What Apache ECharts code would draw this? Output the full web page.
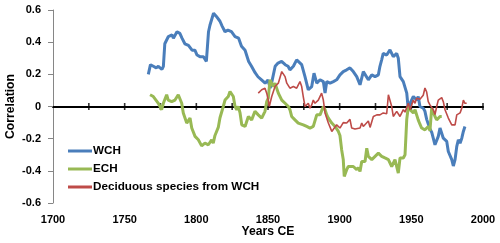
<!DOCTYPE html>
<html><head><meta charset="utf-8">
<script src="https://cdn.jsdelivr.net/npm/echarts@6/dist/echarts.min.js"></script>
<style>html,body{margin:0;padding:0;background:#fff}#c{width:500px;height:243px}</style>
</head><body><div id="c"></div>
<script>
// ---- data ----
const seriesNames = ['WCH', 'ECH', 'Deciduous species from WCH'];

const wchYears = [1766.5,1768,1770,1772,1773.5,1776,1777,1778,1780.5,1783,1784,1786.5,1788.5,1790,1792,1794.5,1797,1799,1800.5,1802.5,1805,1807,1808.5,1809.5,1812,1814,1816.5,1818,1820,1822,1824.5,1827,1829.5,1831.5,1834,1836.5,1838.5,1841,1843,1845.5,1848,1850,1851.5,1852.5,1855,1857,1859.5,1862,1864,1865.3,1867.7,1870,1871.1,1873.5,1875.8,1878.1,1880.5,1882.1,1884,1886.3,1888.6,1889.8,1891,1893.3,1895.6,1897.9,1900.2,1902.5,1904.9,1907.2,1909.5,1911.9,1914.2,1916.5,1917.7,1920,1922.4,1924.7,1927,1928.1,1929.3,1930.4,1932.8,1935.1,1937.4,1939.8,1940.9,1942.1,1944.4,1945.6,1946.8,1947.9,1949.1,1951.4,1953.7,1954.8,1956,1958.3,1959.5,1960.7,1963,1964.2,1966.5,1967.7,1968.8,1970,1971.2,1972.3,1974.7,1975.8,1978.2,1979.3,1980.5,1981.7,1982.8,1984,1985.2,1986.3,1987.4];
const wchValues = [0.20,0.26,0.25,0.24,0.25,0.23,0.25,0.39,0.435,0.445,0.425,0.465,0.455,0.425,0.39,0.38,0.35,0.35,0.32,0.31,0.31,0.28,0.465,0.505,0.58,0.56,0.53,0.50,0.465,0.475,0.465,0.435,0.425,0.375,0.35,0.28,0.25,0.21,0.185,0.165,0.145,0.165,0.115,0.145,0.25,0.27,0.28,0.26,0.25,0.228,0.25,0.29,0.30,0.26,0.186,0.104,0.124,0.207,0.145,0.166,0.155,0.083,0.155,0.145,0.155,0.166,0.197,0.217,0.228,0.24,0.217,0.186,0.135,0.217,0.217,0.166,0.197,0.186,0.197,0.25,0.29,0.33,0.32,0.352,0.31,0.33,0.30,0.186,0.155,0.166,0.083,-0.02,0.02,0.062,0.04,0.062,0.0,-0.01,-0.03,-0.08,-0.14,-0.16,-0.238,-0.238,-0.186,-0.134,-0.134,-0.197,-0.217,-0.28,-0.33,-0.37,-0.33,-0.248,-0.207,-0.228,-0.197,-0.155,-0.124];

const echYears = [1767.7,1770,1773.5,1775.8,1777,1779.3,1780.4,1782.8,1785.1,1787.4,1788.6,1789.8,1790.9,1793.3,1795.6,1796.8,1799.1,1801.4,1803.7,1806,1808.4,1810.7,1811.8,1813,1815.3,1816.5,1818.8,1820,1822.3,1823.5,1824.7,1825.8,1827,1828.2,1829.3,1830.5,1831.7,1834,1836.3,1838.6,1840.9,1843.2,1845.6,1847.9,1849.1,1850.2,1851.4,1852.6,1853.7,1854.9,1857.2,1859.6,1861.9,1864.2,1865.3,1866.5,1868.8,1871.1,1874.6,1877,1879.3,1881.6,1884,1886.3,1888.6,1889.8,1891,1892.1,1894.5,1896.8,1899.1,1900.2,1901.4,1902.5,1903.2,1904.9,1906,1907.2,1909.5,1911.9,1913,1914.2,1915.4,1916.5,1917.7,1918.9,1920,1922.4,1924.7,1927,1929.3,1931.6,1934,1936.3,1938.6,1940.9,1942.1,1944.4,1945.6,1946.8,1947.9,1949.1,1951.4,1952.6,1954.8,1956,1957.2,1959.5,1961.8,1963,1964.2,1966.5,1967.7,1970,1971.2];
const echValues = [0.073,0.062,0.02,-0.02,0.02,0.073,0.04,0.03,0.04,0.073,0.08,0.02,-0.04,-0.103,-0.072,-0.134,-0.186,-0.207,-0.245,-0.228,-0.238,-0.207,-0.228,-0.18,-0.13,-0.07,0.0,0.04,0.062,0.093,0.104,0.062,0.0,-0.02,0.0,-0.04,-0.114,-0.124,-0.062,-0.083,-0.03,-0.052,-0.072,-0.03,0.03,0.052,0.166,0.176,0.124,0.145,0.083,0.04,0.02,0.0,-0.02,-0.062,-0.083,-0.103,-0.114,-0.124,-0.134,-0.124,-0.052,-0.052,0.0,-0.02,-0.052,-0.072,-0.103,-0.124,-0.155,-0.18,-0.27,-0.33,-0.435,-0.393,-0.373,-0.38,-0.373,-0.393,-0.38,-0.404,-0.342,-0.33,-0.342,-0.26,-0.31,-0.33,-0.31,-0.29,-0.31,-0.32,-0.33,-0.373,-0.33,-0.414,-0.32,-0.32,-0.30,-0.08,0.0,-0.02,-0.04,-0.02,-0.083,-0.11,-0.134,-0.145,-0.124,-0.15,-0.01,-0.062,-0.083,-0.062,-0.062];

const decYears = [1843.2,1845.6,1847.9,1849.1,1850.2,1850.9,1852.6,1853.7,1854.9,1857.2,1859.6,1860.7,1861.9,1863.1,1865.3,1866.5,1867.7,1870,1872.3,1873.5,1874.6,1875.8,1877,1878.1,1879.3,1880.5,1881.6,1882.8,1885.1,1887.4,1888.6,1889.8,1892.1,1894.5,1895.6,1897.9,1900.2,1902.5,1904.9,1907.2,1908.4,1910.7,1911.9,1914.2,1915.4,1916.5,1917.7,1920,1921.2,1923.5,1925.9,1928.1,1930.4,1932.8,1934,1935.1,1936.3,1937.4,1939.8,1942.1,1944.4,1945.6,1947.9,1949.1,1951.4,1952.6,1953.7,1956,1958.3,1959.5,1960.7,1961.8,1963,1965.3,1966.5,1967.7,1968.8,1971.2,1972.3,1973.5,1974.7,1975.8,1977,1978.2,1979.3,1980.5,1981.7,1982.8,1984,1985.2,1986.3,1987.4,1988.6];
const decValues = [0.083,0.104,0.114,0.083,0.04,0.0,0.062,0.055,0.124,0.145,0.217,0.228,0.186,0.145,0.114,0.124,0.124,0.114,0.155,0.124,0.062,0.0,-0.01,0.02,-0.01,0.01,0.04,0.02,0.04,0.083,0.04,-0.04,-0.103,-0.155,-0.165,-0.114,-0.134,-0.10,-0.103,-0.08,-0.134,-0.14,-0.145,-0.134,-0.103,-0.124,-0.124,-0.09,-0.13,-0.062,-0.052,-0.052,-0.04,-0.045,0.073,0.083,0.0,-0.062,-0.03,-0.062,-0.02,-0.035,0.02,-0.02,0.04,0.02,0.052,0.045,0.07,0.115,0.09,0.03,0.01,-0.02,-0.05,0.0,0.04,0.055,0.03,-0.02,-0.01,-0.072,-0.083,-0.114,-0.124,-0.114,-0.052,-0.04,-0.04,-0.01,0.04,0.02,0.02];

// tick marks that cross the zero line (every 25 years)
const zeroTickYears = [1725, 1750, 1775, 1800, 1825, 1850, 1875, 1900, 1925, 1950, 1975, 2000];

const xMin = 1700, xMax = 2000, xLabelStep = 50, xTickStep = 25;
const yMin = -0.6, yMax = 0.6, yStep = 0.2;

// ---- chart ----
const pairs = (xs, ys) => xs.map((x, i) => [x, ys[i]]);
const FONT = '"Liberation Sans", Arial, sans-serif';
const chart = echarts.init(document.getElementById('c'), null, {renderer: 'canvas'});

chart.setOption({
  animation: false,
  backgroundColor: '#ffffff',
  textStyle: {fontFamily: FONT},
  grid: {left: 53, right: 17, top: 10, bottom: 40, containLabel: false, outerBoundsMode: 'none'},
  legend: {
    orient: 'vertical', left: 68, top: 145, padding: 0,
    itemWidth: 24, itemHeight: 3, itemGap: 6,
    icon: 'rect',
    textStyle: {fontFamily: FONT, fontSize: 11.7, fontWeight: 'bold', color: '#000', padding: [0, 0, 0, -4]},
    data: seriesNames
  },
  xAxis: [
    { // labels at the bottom
      type: 'value', position: 'bottom', min: xMin, max: xMax, interval: xLabelStep,
      axisLine: {show: false, onZero: false}, axisTick: {show: false}, splitLine: {show: false},
      axisLabel: {fontFamily: FONT, fontSize: 11, fontWeight: 'bold', color: '#000', margin: 11,
        formatter: v => String(v)},
      name: 'Years CE', nameLocation: 'middle', nameGap: 23, nameMoveOverlap: false,
      nameTextStyle: {fontFamily: FONT, fontSize: 12.2, fontWeight: 'bold', color: '#000'}
    },
    { // zero line
      type: 'value', position: 'top', min: xMin, max: xMax, interval: xTickStep,
      axisLine: {show: true, onZero: true, lineStyle: {color: '#000', width: 2}},
      axisTick: {show: false}, axisLabel: {show: false}, splitLine: {show: false}
    }
  ],
  yAxis: {
    type: 'value', min: yMin, max: yMax, interval: yStep,
    axisLine: {show: true, onZero: false, lineStyle: {color: '#868686', width: 1}},
    axisTick: {show: true, length: 5, lineStyle: {color: '#868686'}},
    axisLabel: {fontFamily: FONT, fontSize: 11, fontWeight: 'bold', color: '#000', margin: 12,
      formatter: v => (Math.abs(v) < 1e-9 ? '0' : v.toFixed(1))},
    splitLine: {show: false},
    name: 'Correlation', nameLocation: 'middle', nameGap: 36, nameMoveOverlap: false,
    nameTextStyle: {fontFamily: FONT, fontSize: 12.2, fontWeight: 'bold', color: '#000'}
  },
  series: [
    {name: 'zeroTicks', type: 'scatter', xAxisIndex: 0, yAxisIndex: 0,
     data: zeroTickYears.map(y => [y, 0]), symbol: 'rect', symbolSize: [1.6, 7],
     itemStyle: {color: '#000'}, silent: true, z: 1},
    {name: seriesNames[0], type: 'line', xAxisIndex: 0, yAxisIndex: 0, data: pairs(wchYears, wchValues),
     showSymbol: false, symbol: 'none', color: '#4A7EBB', lineStyle: {width: 3, color: '#4A7EBB'}, z: 3},
    {name: seriesNames[1], type: 'line', xAxisIndex: 0, yAxisIndex: 0, data: pairs(echYears, echValues),
     showSymbol: false, symbol: 'none', color: '#98B954', lineStyle: {width: 3, color: '#98B954'}, z: 4},
    {name: seriesNames[2], type: 'line', xAxisIndex: 0, yAxisIndex: 0, data: pairs(decYears, decValues),
     showSymbol: false, symbol: 'none', color: '#BE4B48', lineStyle: {width: 1.6, color: '#BE4B48'}, z: 5}
  ]
});
</script>
</body></html>
